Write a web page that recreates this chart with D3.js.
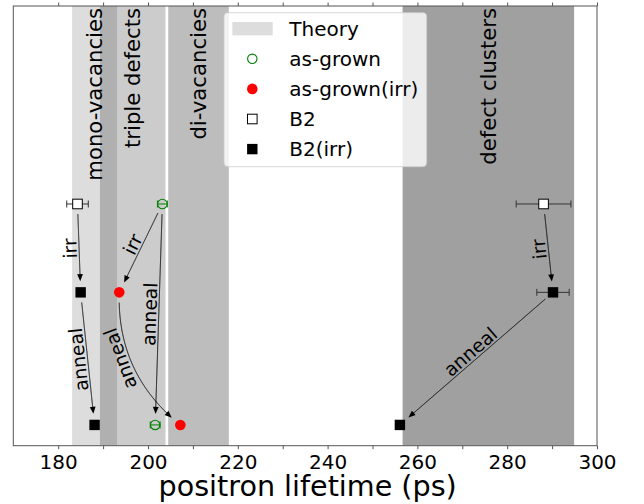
<!DOCTYPE html>
<html>
<head>
<meta charset="utf-8">
<script src="https://cdn.jsdelivr.net/npm/d3@7/dist/d3.min.js"></script>
<style>
  body { margin: 0; background: #fff; }
  svg { display: block; font-family: "DejaVu Sans", sans-serif; }
</style>
</head>
<body>
<div id="chart"></div>
<script>
/* theory ranges (ps) */
const bandNames = ['mono-vacancies', 'triple defects', 'di-vacancies', 'defect clusters'];
const bandLow = [183.1, 189.3, 204.5, 256.7];
const bandHigh = [193.1, 203.9, 218.0, 294.9];

/* measured lifetimes, row = state level (2.5 before, 1.5 irradiated, 0 annealed) */
const asGrownX = [203.2, 201.6];
const asGrownRow = [2.5, 0];
const asGrownErr = [1.1, 1.1];
const asGrownIrrX = [193.6, 207.2];
const asGrownIrrRow = [1.5, 0];
const b2X = [184.3, 288.1];
const b2Row = [2.5, 2.5];
const b2Err = [2.4, 6.1];
const b2IrrX = [185.0, 188.1, 290.2, 256.1];
const b2IrrRow = [1.5, 0, 1.5, 0];
const b2IrrErr = [0, 0, 3.6, 0];

/* arrows between states */
const arrowFrom = [['B2', 0], ['as-grown', 0], ['as-grown', 0], ['as-grown(irr)', 0], ['B2(irr)', 0], ['B2', 1], ['B2(irr)', 2]];
const arrowTo = [['B2(irr)', 0], ['as-grown(irr)', 0], ['as-grown', 1], ['as-grown(irr)', 1], ['B2(irr)', 1], ['B2(irr)', 2], ['B2(irr)', 3]];
const arrowLabels = ['irr', 'irr', 'anneal', 'anneal', 'anneal', 'irr', 'anneal'];
const arrowBend = [0, 0, 0, 0.25, 0, 0, 0];

const xTicks = d3.range(180, 301, 10);
const xDomain = [170, 300];
const yDomain = [-0.235, 4.74];

// styles
const bandOpacity = [0.133, 0.2, 0.26, 0.373];
const labelAt = [0.5, 0.5, 0.5, 0.42, 0.5, 0.5, 0.5];

const width = 644;
const height = 504;
const margin = { left: 13.3, right: 47, top: 6, bottom: 58.3 };

const series = {
  'as-grown': { x: asGrownX, row: asGrownRow, err: asGrownErr },
  'as-grown(irr)': { x: asGrownIrrX, row: asGrownIrrRow, err: [] },
  'B2': { x: b2X, row: b2Row, err: b2Err },
  'B2(irr)': { x: b2IrrX, row: b2IrrRow, err: b2IrrErr }
};
const markerStyle = {
  'as-grown': { shape: 'circle', fill: '#fff', stroke: '#008000', err: '#008000' },
  'as-grown(irr)': { shape: 'circle', fill: '#ff0000', stroke: 'none', err: '#ff0000' },
  'B2': { shape: 'square', fill: '#fff', stroke: '#000', err: '#333' },
  'B2(irr)': { shape: 'square', fill: '#000', stroke: 'none', err: '#333' }
};

const svg = d3.select('#chart').append('svg')
  .attr('width', width)
  .attr('height', height);

const x = d3.scaleLinear().domain(xDomain).range([margin.left, width - margin.right]);
const y = d3.scaleLinear().domain(yDomain).range([height - margin.bottom, margin.top]);

svg.append('defs').append('clipPath').attr('id', 'plot-clip')
  .append('rect')
  .attr('x', x.range()[0]).attr('y', y.range()[1])
  .attr('width', x.range()[1] - x.range()[0])
  .attr('height', y.range()[0] - y.range()[1]);

/* theory bands */
const bands = svg.append('g').attr('clip-path', 'url(#plot-clip)');
bandNames.forEach((name, i) => {
  bands.append('rect')
    .attr('x', x(bandLow[i]))
    .attr('y', y.range()[1])
    .attr('width', x(bandHigh[i]) - x(bandLow[i]))
    .attr('height', y.range()[0] - y.range()[1])
    .attr('fill', '#000')
    .attr('fill-opacity', bandOpacity[i]);
});
bandNames.forEach((name, i) => {
  const cx = x((bandLow[i] + bandHigh[i]) / 2);
  svg.append('text')
    .attr('transform', `translate(${cx},${y(yDomain[1]) + 2}) rotate(-90)`)
    .attr('text-anchor', 'end')
    .attr('dominant-baseline', 'central')
    .attr('font-size', 21.2)
    .attr('fill', '#000')
    .text(name);
});

/* arrows */
function pointOf(ref) {
  const s = series[ref[0]];
  return [x(s.x[ref[1]]), y(s.row[ref[1]])];
}

const arrows = svg.append('g');
arrowLabels.forEach((label, i) => {
  const p0 = pointOf(arrowFrom[i]);
  const p2 = pointOf(arrowTo[i]);
  const dx = p2[0] - p0[0];
  const dy = p2[1] - p0[1];
  const c = [(p0[0] + p2[0]) / 2 - arrowBend[i] * dy, (p0[1] + p2[1]) / 2 + arrowBend[i] * dx];
  const at = t => [
    (1 - t) * (1 - t) * p0[0] + 2 * (1 - t) * t * c[0] + t * t * p2[0],
    (1 - t) * (1 - t) * p0[1] + 2 * (1 - t) * t * c[1] + t * t * p2[1]
  ];
  const tangent = t => [
    2 * (1 - t) * (c[0] - p0[0]) + 2 * t * (p2[0] - c[0]),
    2 * (1 - t) * (c[1] - p0[1]) + 2 * t * (p2[1] - c[1])
  ];
  const dist = (a, b) => Math.hypot(a[0] - b[0], a[1] - b[1]);
  const ts = d3.range(0, 1.0001, 0.002);
  const t0 = ts.find(t => dist(at(t), p0) >= 10);
  const t1 = ts.filter(t => dist(at(t), p2) >= 11).pop();
  const pts = ts.filter(t => t >= t0 && t <= t1).map(at);
  const tip = at(t1);
  const tg = tangent(t1);
  const len = Math.hypot(tg[0], tg[1]);
  const u = [tg[0] / len, tg[1] / len];
  const headLen = 7;
  const headHalf = 2.9;
  const base = [tip[0] - u[0] * headLen, tip[1] - u[1] * headLen];

  arrows.append('path')
    .attr('d', d3.line()(pts.filter(p => dist(p, p2) >= 11 + headLen - 1).concat([base])))
    .attr('fill', 'none')
    .attr('stroke', '#000')
    .attr('stroke-width', 1);
  arrows.append('path')
    .attr('d', d3.line()([
      tip,
      [base[0] - u[1] * headHalf, base[1] + u[0] * headHalf],
      [base[0] + u[1] * headHalf, base[1] - u[0] * headHalf]
    ]) + 'Z')
    .attr('fill', '#000');

  // label along the arrow, reading upwards
  const lt = labelAt[i];
  let v = tangent(lt);
  if (v[1] > 0) v = [-v[0], -v[1]];
  const theta = Math.atan2(v[1], v[0]);
  const up = [Math.sin(theta), -Math.cos(theta)];
  const lp = at(lt);
  const gap = 2.5;
  arrows.append('text')
    .attr('transform', `translate(${lp[0] + up[0] * gap},${lp[1] + up[1] * gap}) rotate(${theta * 180 / Math.PI})`)
    .attr('text-anchor', 'middle')
    .attr('font-size', 18.7)
    .attr('fill', '#000')
    .text(label);
});

/* error bars and markers */
const marks = svg.append('g');
Object.keys(series).forEach(key => {
  const s = series[key];
  const st = markerStyle[key];
  s.x.forEach((v, j) => {
    const e = s.err[j] || 0;
    if (e > 0) {
      const yy = y(s.row[j]);
      marks.append('line')
        .attr('x1', x(v - e)).attr('x2', x(v + e))
        .attr('y1', yy).attr('y2', yy)
        .attr('stroke', st.err).attr('stroke-width', 1);
      [v - e, v + e].forEach(cap => {
        marks.append('line')
          .attr('x1', x(cap)).attr('x2', x(cap))
          .attr('y1', yy - 3.5).attr('y2', yy + 3.5)
          .attr('stroke', st.err).attr('stroke-width', 1);
      });
    }
  });
});

function drawMarker(g, key, cx, cy) {
  const st = markerStyle[key];
  if (st.shape === 'circle') {
    const open = st.stroke !== 'none';
    g.append('circle')
      .attr('cx', cx).attr('cy', cy)
      .attr('r', open ? 4.7 : 5.3)
      .attr('fill', open ? 'none' : st.fill)
      .attr('stroke', st.stroke)
      .attr('stroke-width', 1.1);
  } else {
    const open = st.stroke !== 'none';
    const h = open ? 4.8 : 5.2;
    g.append('rect')
      .attr('x', cx - h).attr('y', cy - h)
      .attr('width', 2 * h).attr('height', 2 * h)
      .attr('fill', st.fill)
      .attr('stroke', st.stroke)
      .attr('stroke-width', 1);
  }
}

Object.keys(series).forEach(key => {
  const s = series[key];
  s.x.forEach((v, j) => drawMarker(marks, key, x(v), y(s.row[j])));
});

/* axes */
const bottomAxis = svg.append('g')
  .attr('transform', `translate(0,${y.range()[0]})`)
  .call(d3.axisBottom(x).tickValues(xTicks).tickSize(3.5).tickSizeOuter(0)
    .tickFormat(d => d % 20 === 0 ? d : ''));
bottomAxis.select('.domain').remove();
bottomAxis.selectAll('.tick line').attr('stroke', '#555');
bottomAxis.selectAll('.tick text')
  .attr('y', 23.3).attr('dy', null)
  .attr('font-size', 20)
  .attr('font-family', '"DejaVu Sans", sans-serif')
  .attr('fill', '#000');

const topAxis = svg.append('g')
  .attr('transform', `translate(0,${y.range()[1]})`)
  .call(d3.axisTop(x).tickValues(xTicks).tickSize(3.5).tickSizeOuter(0).tickFormat(''));
topAxis.select('.domain').remove();
topAxis.selectAll('.tick line').attr('stroke', '#555');

svg.append('rect')
  .attr('x', x.range()[0]).attr('y', y.range()[1])
  .attr('width', x.range()[1] - x.range()[0])
  .attr('height', y.range()[0] - y.range()[1])
  .attr('fill', 'none')
  .attr('stroke', '#555')
  .attr('stroke-width', 1);

svg.append('text')
  .attr('x', (x.range()[0] + x.range()[1]) / 2 + 2.5)
  .attr('y', 496)
  .attr('text-anchor', 'middle')
  .attr('font-size', 28.6)
  .attr('fill', '#000')
  .text('positron lifetime (ps)');

/* legend */
const legend = svg.append('g').attr('transform', 'translate(224,12.7)');
legend.append('rect')
  .attr('width', 202.7).attr('height', 154)
  .attr('rx', 4)
  .attr('fill', '#fff').attr('fill-opacity', 0.8)
  .attr('stroke', '#ccc').attr('stroke-opacity', 0.8);
const legendKeys = ['Theory'].concat(Object.keys(series));
legendKeys.forEach((key, i) => {
  const ry = 16 + i * 30.1;
  if (key === 'Theory') {
    legend.append('rect')
      .attr('x', 8.3).attr('y', ry - 6.7)
      .attr('width', 40.4).attr('height', 13.4)
      .attr('fill', '#000').attr('fill-opacity', bandOpacity[0]);
  } else {
    drawMarker(legend, key, 28.3, ry);
  }
  legend.append('text')
    .attr('x', 65.3).attr('y', ry + 7.3)
    .attr('font-size', 20)
    .attr('fill', '#000')
    .text(key);
});
</script>
</body>
</html>
